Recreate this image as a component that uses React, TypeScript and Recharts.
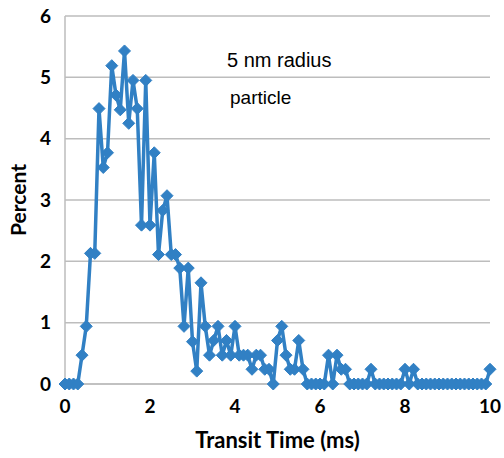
import { CartesianGrid, Line, LineChart, XAxis, YAxis } from "recharts";

// transit time bins (ms)
const transitTime = [
  0, 0.1, 0.2, 0.3, 0.4, 0.5, 0.6, 0.7, 0.8, 0.9,
  1, 1.1, 1.2, 1.3, 1.4, 1.5, 1.6, 1.7, 1.8, 1.9,
  2, 2.1, 2.2, 2.3, 2.4, 2.5, 2.6, 2.7, 2.8, 2.9,
  3, 3.1, 3.2, 3.3, 3.4, 3.5, 3.6, 3.7, 3.8, 3.9,
  4, 4.1, 4.2, 4.3, 4.4, 4.5, 4.6, 4.7, 4.8, 4.9,
  5, 5.1, 5.2, 5.3, 5.4, 5.5, 5.6, 5.7, 5.8, 5.9,
  6, 6.1, 6.2, 6.3, 6.4, 6.5, 6.6, 6.7, 6.8, 6.9,
  7, 7.1, 7.2, 7.3, 7.4, 7.5, 7.6, 7.7, 7.8, 7.9,
  8, 8.1, 8.2, 8.3, 8.4, 8.5, 8.6, 8.7, 8.8, 8.9,
  9, 9.1, 9.2, 9.3, 9.4, 9.5, 9.6, 9.7, 9.8, 9.9,
  10,
];

// share of particles in each bin (%)
const percent = [
  0, 0, 0, 0, 0.47, 0.94, 2.13, 2.13, 4.49, 3.53,
  3.77, 5.19, 4.71, 4.47, 5.43, 4.25, 4.95, 4.49, 2.59, 4.95,
  2.59, 3.77, 2.11, 2.83, 3.07, 2.11, 2.11, 1.89, 0.94, 1.89,
  0.69, 0.21, 1.65, 0.94, 0.47, 0.71, 0.94, 0.47, 0.71, 0.47,
  0.94, 0.47, 0.47, 0.47, 0.24, 0.47, 0.47, 0.24, 0.24, 0,
  0.71, 0.94, 0.47, 0.24, 0.24, 0.71, 0.24, 0, 0, 0,
  0, 0, 0.47, 0, 0.47, 0.24, 0.24, 0, 0, 0,
  0, 0, 0.24, 0, 0, 0, 0, 0, 0, 0,
  0.24, 0, 0.24, 0, 0, 0, 0, 0, 0, 0,
  0, 0, 0, 0, 0, 0, 0, 0, 0, 0,
  0.24,
];

const xTicks = [0, 2, 4, 6, 8, 10];
const yTicks = [0, 1, 2, 3, 4, 5, 6];

const data = transitTime.map((t, i) => ({ t, pct: percent[i] }));

const BLUE = "#3180c4";
const GRID = "#bdbdbd";
const tickFont = { fontFamily: "Lato", fontWeight: 700, fontSize: 19, fill: "#000" };
const titleFont = { fontFamily: "Lato", fontWeight: 700, fontSize: 21, fill: "#000" };

function Diamond(props: any) {
  const { cx, cy } = props;
  if (cx == null || cy == null) return null;
  const r = 6;
  return (
    <path
      d={`M${cx},${cy - r} L${cx + r},${cy} L${cx},${cy + r} L${cx - r},${cy} Z`}
      fill={BLUE}
      stroke={BLUE}
      strokeWidth={1}
    />
  );
}

export default function App() {
  return (
    <div style={{ position: "absolute", left: 0, top: 0, width: 504, height: 458, background: "#fff" }}>
      <LineChart width={504} height={458} data={data} margin={{ top: 16, right: 14, bottom: 0, left: 0 }}>
        <CartesianGrid horizontal vertical={false} stroke={GRID} strokeWidth={1.5} />
        <XAxis
          dataKey="t"
          type="number"
          domain={[0, 10]}
          ticks={xTicks}
          tickLine={false}
          axisLine={{ stroke: GRID, strokeWidth: 1.5 }}
          tick={tickFont}
          tickMargin={10}
          height={74}
          label={{
            value: "Transit Time (ms)",
            position: "insideBottom",
            offset: 10,
            style: { ...titleFont, fontSize: 22 },
          }}
        />
        <YAxis
          type="number"
          domain={[0, 6]}
          ticks={yTicks}
          tickLine={false}
          axisLine={{ stroke: GRID, strokeWidth: 1.5 }}
          tick={tickFont}
          tickMargin={8}
          width={65}
          label={{
            value: "Percent",
            angle: -90,
            position: "center",
            dx: -14,
            style: { ...titleFont, textAnchor: "middle" },
          }}
        />
        <Line
          type="linear"
          dataKey="pct"
          stroke={BLUE}
          strokeWidth={3.5}
          dot={<Diamond />}
          activeDot={false}
          isAnimationActive={false}
        />
      </LineChart>
      <svg width={504} height={458} style={{ position: "absolute", left: 0, top: 0, pointerEvents: "none" }}>
        <text x={227} y={67} fontFamily="Liberation Sans" fontSize={20} fill="#000">
          5 nm radius
        </text>
        <text x={230} y={104} fontFamily="Liberation Sans" fontSize={19} fill="#000">
          particle
        </text>
      </svg>
    </div>
  );
}
